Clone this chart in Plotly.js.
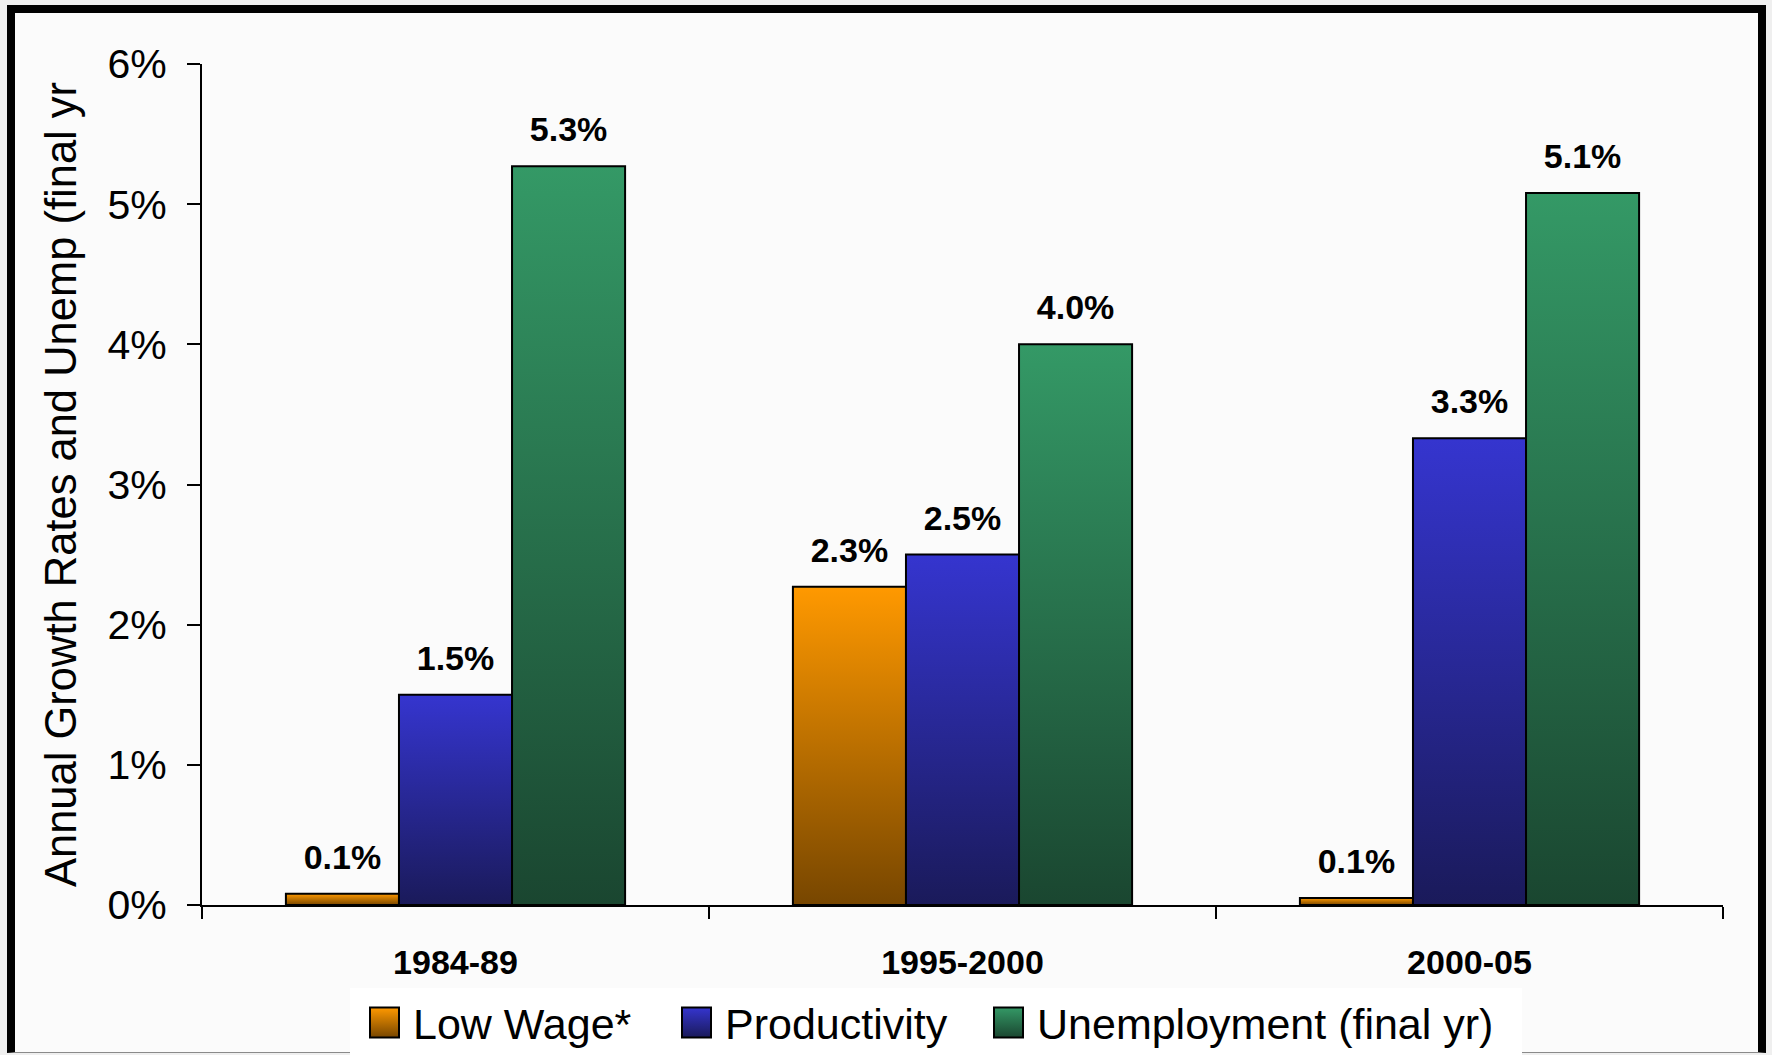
<!DOCTYPE html>
<html><head><meta charset="utf-8">
<script src="https://cdn.plot.ly/plotly-3.0.1.min.js"></script>
<style>
html,body{margin:0;padding:0;background:#efefef;width:1772px;height:1055px;overflow:hidden;}
#frame{position:absolute;left:7px;top:5px;width:1759px;height:1048px;box-sizing:border-box;border:8px solid #000;border-bottom:1px solid #8a8a8a;background:#fbfbfb;}
#chart{position:absolute;left:0;top:0;width:1772px;height:1055px;}
</style></head><body>
<div id="frame"></div>
<div id="chart"></div>
<script>
// ---- data ----
const periods = ['1984-89', '1995-2000', '2000-05'];
const lowWage = [0.08, 2.27, 0.05];
const productivity = [1.5, 2.5, 3.33];
const unemployment = [5.27, 4.0, 5.08];
const seriesNames = ['Low Wage*', 'Productivity', 'Unemployment (final yr)'];
const yTickVals = [0, 1, 2, 3, 4, 5, 6];
const yTickText = ['0%', '1%', '2%', '3%', '4%', '5%', '6%'];
const yTitle = 'Annual Growth Rates and Unemp (final yr';

// ---- styles ----
const FONT = 'Liberation Sans, Arial, Helvetica, sans-serif';
const gradStops = [
  ['#ff9900', '#774600'],
  ['#3535cf', '#1a1a5a'],
  ['#349966', '#1a4630']
];
const midColors = ['#c07000', '#282895', '#287048'];
const legendWidths = [244, 244, 480];

const seriesValues = [lowWage, productivity, unemployment];
const traces = seriesValues.map((vals, i) => ({
  type: 'bar',
  name: seriesNames[i],
  x: periods,
  y: vals,
  marker: {color: midColors[i], line: {color: '#000000', width: 2}},
  texttemplate: '%{y:.1f}%',
  textposition: 'outside',
  cliponaxis: false,
  textfont: {family: FONT, size: 34, color: '#000000', weight: 'bold'},
  legendwidth: legendWidths[i],
  hoverinfo: 'skip'
}));

const H = 1055;
const layout = {
  width: 1772, height: H,
  margin: {l: 202, r: 49, t: 64, b: H - 905, autoexpand: false},
  paper_bgcolor: 'rgba(0,0,0,0)',
  plot_bgcolor: 'rgba(0,0,0,0)',
  barmode: 'group',
  bargap: 0.331,
  bargroupgap: 0,
  font: {family: FONT, color: '#000000'},
  showlegend: true,
  legend: {
    orientation: 'h', xref: 'container', yref: 'container',
    x: 350 / 1772, xanchor: 'left', y: (H - 988) / H, yanchor: 'top',
    bgcolor: '#ffffff', borderwidth: 0,
    font: {family: FONT, size: 43, color: '#000000'},
    itemwidth: 53, traceorder: 'normal'
  },
  xaxis: {
    type: 'category',
    showline: true, linecolor: '#000000', linewidth: 2,
    ticks: 'outside', tickson: 'boundaries', ticklen: 12, tickwidth: 2, tickcolor: '#000000',
    tickfont: {family: FONT, size: 34, color: '#000000', weight: 'bold'},
    ticklabelstandoff: 26,
    showgrid: false, zeroline: false, fixedrange: true
  },
  yaxis: {
    range: [0, 6], tickmode: 'array', tickvals: yTickVals, ticktext: yTickText,
    showline: true, linecolor: '#000000', linewidth: 2,
    ticks: 'outside', ticklen: 13, tickwidth: 2, tickcolor: '#000000',
    tickfont: {family: FONT, size: 41, color: '#000000'},
    ticklabelstandoff: 12,
    showgrid: false, zeroline: false, fixedrange: true,
    title: {text: yTitle, font: {family: FONT, size: 43.5, color: '#000000'}, standoff: 17}
  }
};

function decorate(gd) {
  const ns = 'http://www.w3.org/2000/svg';
  const svg = gd.querySelector('svg.main-svg');
  let defs = svg.querySelector('defs');
  if (!defs) { defs = document.createElementNS(ns, 'defs'); svg.insertBefore(defs, svg.firstChild); }
  gradStops.forEach((c, i) => {
    if (document.getElementById('bargrad' + i)) return;
    const lg = document.createElementNS(ns, 'linearGradient');
    lg.setAttribute('id', 'bargrad' + i);
    lg.setAttribute('x1', '0'); lg.setAttribute('y1', '0');
    lg.setAttribute('x2', '0'); lg.setAttribute('y2', '1');
    [[0, c[0]], [1, c[1]]].forEach(([o, col]) => {
      const s = document.createElementNS(ns, 'stop');
      s.setAttribute('offset', o); s.setAttribute('stop-color', col);
      lg.appendChild(s);
    });
    defs.appendChild(lg);
  });
  gd.querySelectorAll('.barlayer .trace').forEach((tr, i) => {
    tr.querySelectorAll('path').forEach(p => { p.style.fill = 'url(#bargrad' + i + ')'; });
    tr.querySelectorAll('text').forEach(t => {
      if (t.dataset.shifted) return;
      t.dataset.shifted = '1';
      t.setAttribute('transform', 'translate(0,-15) ' + (t.getAttribute('transform') || ''));
    });
  });
  gd.querySelectorAll('.legend .traces').forEach((tr, i) => {
    const p = tr.querySelector('.legendpoints path');
    if (p) {
      p.setAttribute('d', 'M17.5,15H-11.5V-15H17.5Z');
      p.style.fill = 'url(#bargrad' + i + ')';
      p.style.strokeWidth = '2px';
    }
  });
}

Plotly.newPlot('chart', traces, layout, {staticPlot: true, displayModeBar: false}).then(gd => {
  decorate(gd);
  setTimeout(() => decorate(gd), 300);
});
</script>
</body></html>
